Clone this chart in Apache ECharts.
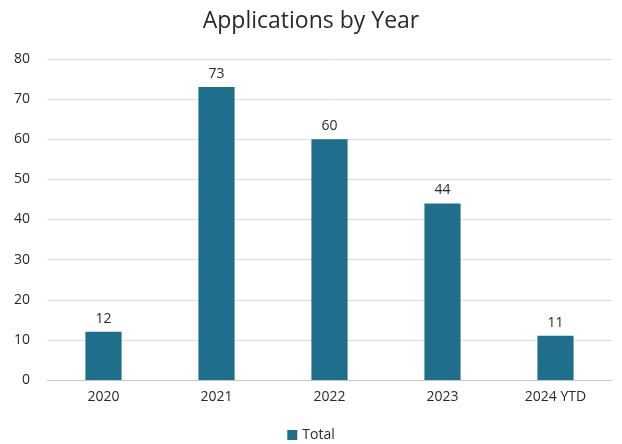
<!DOCTYPE html>
<html><head><meta charset="utf-8">
<script src="https://cdn.jsdelivr.net/npm/echarts@6/dist/echarts.min.js"></script>
<style>html,body{margin:0;padding:0;background:#fff}#c{width:622px;height:444px}</style>
</head><body><div id="c"></div>
<script>
var categories = ['2020','2021','2022','2023','2024 YTD'];
var totals = [12, 73, 60, 44, 11];
var yTicks = {min:0, max:80, interval:10};

var chart = echarts.init(document.getElementById('c'));
chart.setOption({
  animation:false,
  backgroundColor:'#fff',
  title:{text:'Applications by Year', left:'center', top:5,
    textStyle:{fontFamily:'Open Sans', fontSize:23, fontWeight:'normal', color:'#2a2a2a'}},
  grid:{left:47, right:10, top:59, bottom:64},
  legend:{bottom:-3, left:'center', itemWidth:10, itemHeight:10, icon:'rect', itemGap:3,
    textStyle:{fontFamily:'Open Sans', fontSize:14, color:'#2a2a2a'}, data:['Total']},
  xAxis:{type:'category', data:categories,
    axisLine:{lineStyle:{color:'#c8c8c8'}}, axisTick:{show:false},
    axisLabel:{fontFamily:'Open Sans', fontSize:14, color:'#2a2a2a', margin:10}},
  yAxis:{type:'value', min:yTicks.min, max:yTicks.max, interval:yTicks.interval,
    axisLine:{show:false}, axisTick:{show:false},
    axisLabel:{fontFamily:'Open Sans', fontSize:14, color:'#2a2a2a', margin:17},
    splitLine:{lineStyle:{color:'#dcdcdc'}}},
  series:[{name:'Total', type:'bar', data:totals, barWidth:'32%',
    itemStyle:{color:'#1e6e8c'},
    label:{show:true, position:'top', distance:6, fontFamily:'Open Sans', fontSize:14, color:'#2a2a2a'}}]
});
</script></body></html>
